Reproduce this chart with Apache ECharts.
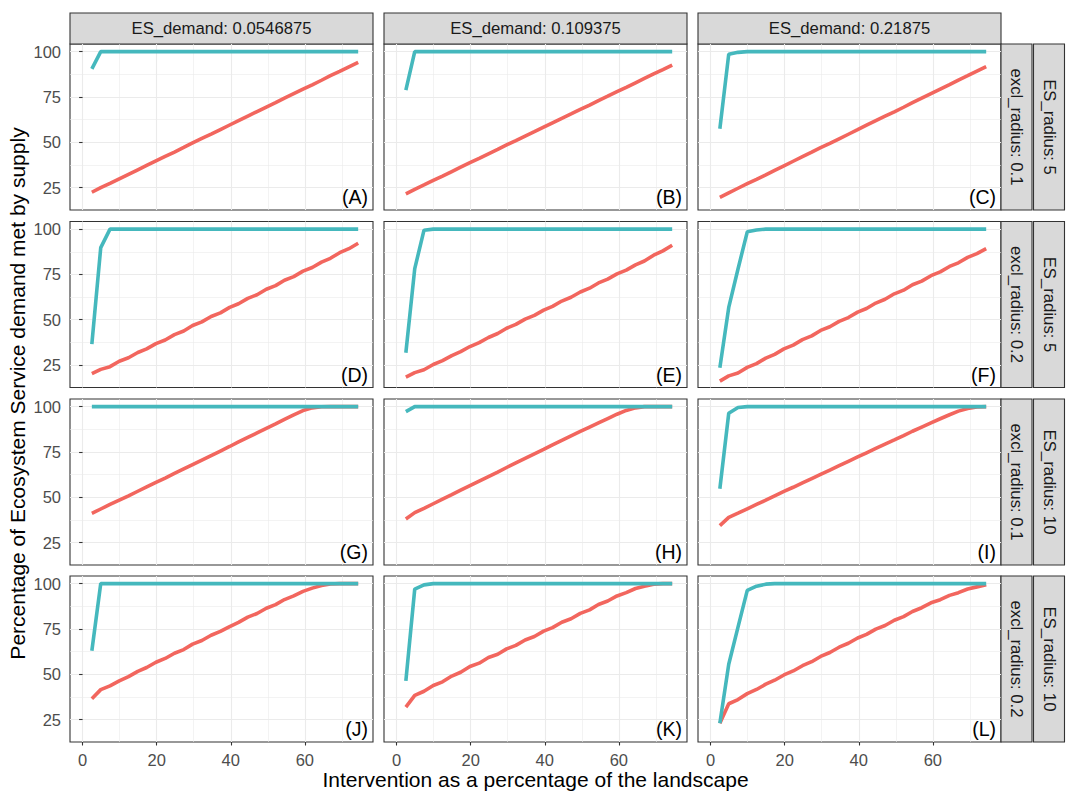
<!DOCTYPE html>
<html>
<head>
<meta charset="utf-8">
<script src="https://cdn.jsdelivr.net/npm/echarts@6/dist/echarts.min.js"></script>
<style>
html, body { margin: 0; padding: 0; background: #fff; }
#main { width: 1078px; height: 805px; }
</style>
</head>
<body>
<div id="main"></div>
<script>
// --- data ---
var intervention = [2.5, 4.9, 7.4, 9.9, 12.4, 14.9, 17.3, 19.8, 22.3, 24.8, 27.3, 29.7, 32.2, 34.7, 37.2,
    39.7, 42.1, 44.6, 47.1, 49.6, 52.1, 54.5, 57.0, 59.5, 62.0, 64.5, 66.9, 69.4, 71.9, 74.4];

var demandLabels = ['ES_demand: 0.0546875', 'ES_demand: 0.109375', 'ES_demand: 0.21875'];
var exclLabels = ['excl_radius: 0.1', 'excl_radius: 0.2', 'excl_radius: 0.1', 'excl_radius: 0.2'];
var radiusLabels = ['ES_radius: 5', 'ES_radius: 5', 'ES_radius: 10', 'ES_radius: 10'];
var panelTags = ['(A)', '(B)', '(C)', '(D)', '(E)', '(F)', '(G)', '(H)', '(I)', '(J)', '(K)', '(L)'];

var xTicks = [0, 20, 40, 60];
var xMinorTicks = [10, 30, 50, 70];
var yTicks = [25, 50, 75, 100];
var yMinorTicks = [37.5, 62.5, 87.5];

// red line per panel
var redA = [22.4, 24.9, 27.3, 29.8, 32.3, 34.8, 37.2, 39.7, 42.2, 44.6, 47.1, 49.6, 52.1, 54.5, 57.0, 59.5, 61.9, 64.4, 66.9, 69.4, 71.8, 74.3, 76.8, 79.3, 81.7, 84.2, 86.7, 89.1, 91.6, 94.1];
var redB = [21.5, 24.0, 26.4, 28.9, 31.3, 33.8, 36.2, 38.7, 41.1, 43.6, 46.0, 48.5, 50.9, 53.4, 55.8, 58.3, 60.7, 63.2, 65.6, 68.1, 70.5, 73.0, 75.4, 77.9, 80.3, 82.8, 85.2, 87.7, 90.1, 92.6];
var redC = [19.6, 22.1, 24.6, 27.1, 29.5, 32.0, 34.5, 37.0, 39.5, 42.0, 44.5, 47.0, 49.4, 51.9, 54.4, 56.9, 59.4, 61.9, 64.4, 66.8, 69.3, 71.8, 74.3, 76.8, 79.3, 81.8, 84.3, 86.7, 89.2, 91.7];
var redD = [20.2, 22.6, 24.1, 27.1, 29.0, 31.9, 33.9, 36.8, 38.8, 41.8, 43.8, 46.8, 48.8, 51.8, 53.8, 56.8, 58.8, 61.8, 63.8, 66.8, 68.8, 71.8, 73.8, 76.8, 78.8, 81.8, 83.9, 87.0, 89.2, 92.2];
var redE = [18.3, 20.8, 22.4, 25.3, 27.4, 30.2, 32.4, 35.2, 37.4, 40.2, 42.4, 45.3, 47.4, 50.3, 52.4, 55.3, 57.4, 60.3, 62.4, 65.3, 67.4, 70.3, 72.4, 75.3, 77.4, 80.3, 82.4, 85.6, 88.0, 91.1];
var redF = [16.1, 19.0, 20.6, 23.7, 25.8, 28.8, 30.9, 33.9, 36.0, 39.0, 41.1, 44.1, 46.1, 49.1, 51.2, 54.2, 56.2, 59.2, 61.3, 64.3, 66.3, 69.3, 71.3, 74.3, 76.4, 79.4, 81.4, 84.4, 86.5, 89.2];
var redG = [41.1, 43.5, 46.0, 48.4, 50.8, 53.3, 55.7, 58.2, 60.6, 63.1, 65.6, 68.0, 70.5, 73.0, 75.5, 78.0, 80.5, 83.0, 85.5, 88.0, 90.5, 93.0, 95.5, 97.8, 99.3, 99.9, 100, 100, 100, 100];
var redH = [38.0, 41.5, 43.9, 46.4, 48.9, 51.4, 53.9, 56.4, 58.9, 61.4, 63.9, 66.4, 68.9, 71.4, 73.9, 76.4, 78.9, 81.4, 83.9, 86.3, 88.7, 91.0, 93.4, 95.8, 97.9, 99.3, 100, 100, 100, 100];
var redI = [34.3, 38.9, 41.2, 43.6, 46.0, 48.4, 50.8, 53.2, 55.5, 57.9, 60.3, 62.6, 65.0, 67.4, 69.8, 72.2, 74.5, 76.9, 79.3, 81.6, 84.0, 86.4, 88.7, 91.0, 93.3, 95.5, 97.5, 99.0, 99.8, 100];
var redJ = [36.5, 41.5, 43.6, 46.3, 48.7, 51.6, 53.7, 56.6, 58.7, 61.6, 63.6, 66.6, 68.6, 71.5, 73.6, 76.3, 78.6, 81.5, 83.5, 86.4, 88.4, 91.2, 93.2, 95.7, 97.5, 99.0, 99.8, 100, 100, 100];
var redK = [31.8, 38.3, 40.6, 43.8, 45.8, 49.0, 51.1, 54.3, 56.1, 59.2, 61.0, 64.0, 65.9, 68.9, 70.8, 73.8, 75.7, 78.7, 80.6, 83.6, 85.5, 88.5, 90.4, 93.2, 95.0, 97.3, 98.6, 99.7, 100, 100];
var redL = [23.0, 33.7, 36.0, 39.3, 41.6, 44.5, 46.7, 49.6, 51.8, 54.7, 56.9, 59.8, 62.0, 64.9, 67.1, 70.0, 72.0, 74.9, 76.9, 79.8, 81.8, 84.6, 86.7, 89.4, 91.1, 93.5, 95.0, 97.0, 98.2, 99.4];

// teal line per panel
var tealA = [90.5, 100, 100, 100, 100, 100, 100, 100, 100, 100, 100, 100, 100, 100, 100, 100, 100, 100, 100, 100, 100, 100, 100, 100, 100, 100, 100, 100, 100, 100];
var tealB = [78.7, 100, 100, 100, 100, 100, 100, 100, 100, 100, 100, 100, 100, 100, 100, 100, 100, 100, 100, 100, 100, 100, 100, 100, 100, 100, 100, 100, 100, 100];
var tealC = [57.4, 98.6, 99.6, 100, 100, 100, 100, 100, 100, 100, 100, 100, 100, 100, 100, 100, 100, 100, 100, 100, 100, 100, 100, 100, 100, 100, 100, 100, 100, 100];
var tealD = [36.5, 89.8, 100, 100, 100, 100, 100, 100, 100, 100, 100, 100, 100, 100, 100, 100, 100, 100, 100, 100, 100, 100, 100, 100, 100, 100, 100, 100, 100, 100];
var tealE = [31.8, 78.2, 99.4, 100, 100, 100, 100, 100, 100, 100, 100, 100, 100, 100, 100, 100, 100, 100, 100, 100, 100, 100, 100, 100, 100, 100, 100, 100, 100, 100];
var tealF = [23.5, 56.8, 78.0, 98.5, 99.5, 100, 100, 100, 100, 100, 100, 100, 100, 100, 100, 100, 100, 100, 100, 100, 100, 100, 100, 100, 100, 100, 100, 100, 100, 100];
var tealG = [100, 100, 100, 100, 100, 100, 100, 100, 100, 100, 100, 100, 100, 100, 100, 100, 100, 100, 100, 100, 100, 100, 100, 100, 100, 100, 100, 100, 100, 100];
var tealH = [97.2, 100, 100, 100, 100, 100, 100, 100, 100, 100, 100, 100, 100, 100, 100, 100, 100, 100, 100, 100, 100, 100, 100, 100, 100, 100, 100, 100, 100, 100];
var tealI = [54.7, 96.3, 99.5, 100, 100, 100, 100, 100, 100, 100, 100, 100, 100, 100, 100, 100, 100, 100, 100, 100, 100, 100, 100, 100, 100, 100, 100, 100, 100, 100];
var tealJ = [63.0, 100, 100, 100, 100, 100, 100, 100, 100, 100, 100, 100, 100, 100, 100, 100, 100, 100, 100, 100, 100, 100, 100, 100, 100, 100, 100, 100, 100, 100];
var tealK = [46.3, 97.0, 99.3, 100, 100, 100, 100, 100, 100, 100, 100, 100, 100, 100, 100, 100, 100, 100, 100, 100, 100, 100, 100, 100, 100, 100, 100, 100, 100, 100];
var tealL = [23.0, 55.5, 76.0, 96.3, 98.6, 99.7, 100, 100, 100, 100, 100, 100, 100, 100, 100, 100, 100, 100, 100, 100, 100, 100, 100, 100, 100, 100, 100, 100, 100, 100];

var redLines = [redA, redB, redC, redD, redE, redF, redG, redH, redI, redJ, redK, redL];
var tealLines = [tealA, tealB, tealC, tealD, tealE, tealF, tealG, tealH, tealI, tealJ, tealK, tealL];

// --- layout ---
var colLeft = [70, 384, 698];
var rowTop = [44, 221.5, 399, 576];
var panelW = 303, panelH = 166;
var stripSize = 31;
var font = 'Liberation Sans';
var dark = '#333333';
var gridCol = '#EBEBEB';

var myChart = echarts.init(document.getElementById('main'), null, { renderer: 'svg' });

var grids = [], xAxes = [], yAxes = [], series = [], graphics = [];

function pairs(ys) {
    return intervention.map(function (x, k) { return [x, ys[k]]; });
}

for (var r = 0; r < 4; r++) {
    for (var c = 0; c < 3; c++) {
        var i = r * 3 + c;
        grids.push({
            left: colLeft[c], top: rowTop[r], width: panelW, height: panelH,
            show: true, backgroundColor: '#fff', borderColor: dark, borderWidth: 1.1,
            outerBoundsMode: 'none', containLabel: false
        });
        xAxes.push({
            type: 'value', gridIndex: i, min: -3.4, max: 78.4,
            axisLine: { show: false },
            axisTick: { show: r === 3, customValues: xTicks, length: 3.5, lineStyle: { color: dark, width: 1.1 } },
            axisLabel: { show: r === 3, customValues: xTicks, margin: 9, color: '#4D4D4D', fontSize: 16.5, fontFamily: font },
            splitLine: { show: true, lineStyle: { color: gridCol, width: 1.1 } }
        });
        yAxes.push({
            type: 'value', gridIndex: i, min: 12.6, max: 104.2,
            axisLine: { show: false },
            axisTick: { show: c === 0, customValues: yTicks, length: 3.5, lineStyle: { color: dark, width: 1.1 } },
            axisLabel: { show: c === 0, customValues: yTicks, margin: 9, color: '#4D4D4D', fontSize: 16.5, fontFamily: font },
            splitLine: { show: true, lineStyle: { color: gridCol, width: 1.1 } }
        });
        series.push({
            name: 'red', type: 'line', xAxisIndex: i, yAxisIndex: i,
            data: pairs(redLines[i]), showSymbol: false, symbol: 'none', silent: true,
            lineStyle: { color: '#F2665E', width: 3.6 }, z: 3
        });
        series.push({
            name: 'teal', type: 'line', xAxisIndex: i, yAxisIndex: i,
            data: pairs(tealLines[i]), showSymbol: false, symbol: 'none', silent: true,
            lineStyle: { color: '#45B8BD', width: 3.6 }, z: 4
        });
        graphics.push({
            type: 'text', x: colLeft[c] + panelW - 5, y: rowTop[r] + panelH - 3, z: 10,
            style: { text: panelTags[i], align: 'right', verticalAlign: 'bottom', fill: '#000', fontSize: 19.5, fontFamily: font }
        });
    }
}

// minor grid lines: second, hidden axis pair in each panel
for (var j = 0; j < 12; j++) {
    xAxes.push({
        type: 'value', gridIndex: j, min: -3.4, max: 78.4,
        axisLine: { show: false }, axisLabel: { show: false },
        axisTick: { show: false, customValues: xMinorTicks },
        splitLine: { show: true, lineStyle: { color: gridCol, width: 0.6 } }
    });
    yAxes.push({
        type: 'value', gridIndex: j, min: 12.6, max: 104.2,
        axisLine: { show: false }, axisLabel: { show: false },
        axisTick: { show: false, customValues: yMinorTicks },
        splitLine: { show: true, lineStyle: { color: gridCol, width: 0.6 } }
    });
}

// facet strips on top
for (var c2 = 0; c2 < 3; c2++) {
    graphics.push({
        type: 'rect', shape: { x: colLeft[c2], y: rowTop[0] - stripSize, width: panelW, height: stripSize },
        style: { fill: '#D9D9D9', stroke: dark, lineWidth: 1.1 }
    });
    graphics.push({
        type: 'text', x: colLeft[c2] + panelW / 2, y: rowTop[0] - stripSize / 2,
        style: { text: demandLabels[c2], align: 'center', verticalAlign: 'middle', fill: '#1A1A1A', fontSize: 16.7, fontFamily: font }
    });
}
// facet strips on the right
var stripX1 = colLeft[2] + panelW, stripX2 = stripX1 + stripSize + 1.5;
for (var r2 = 0; r2 < 4; r2++) {
    [[stripX1, exclLabels[r2]], [stripX2, radiusLabels[r2]]].forEach(function (s) {
        graphics.push({
            type: 'rect', shape: { x: s[0], y: rowTop[r2], width: stripSize, height: panelH },
            style: { fill: '#D9D9D9', stroke: dark, lineWidth: 1.1 }
        });
        graphics.push({
            type: 'text', x: s[0] + stripSize / 2, y: rowTop[r2] + panelH / 2, rotation: -Math.PI / 2,
            style: { text: s[1], align: 'center', verticalAlign: 'middle', fill: '#1A1A1A', fontSize: 16.7, fontFamily: font }
        });
    });
}
// axis titles
graphics.push({
    type: 'text', x: 535.5, y: 779,
    style: { text: 'Intervention as a percentage of the landscape', align: 'center', verticalAlign: 'middle', fill: '#000', fontSize: 21, fontFamily: font }
});
graphics.push({
    type: 'text', x: 17, y: 393.5, rotation: Math.PI / 2,
    style: { text: 'Percentage of Ecosystem Service demand met by supply', align: 'center', verticalAlign: 'middle', fill: '#000', fontSize: 21, fontFamily: font }
});

var option = {
    animation: false,
    backgroundColor: '#fff',
    grid: grids,
    xAxis: xAxes,
    yAxis: yAxes,
    series: series,
    graphic: graphics
};
myChart.setOption(option);
</script>
</body>
</html>
